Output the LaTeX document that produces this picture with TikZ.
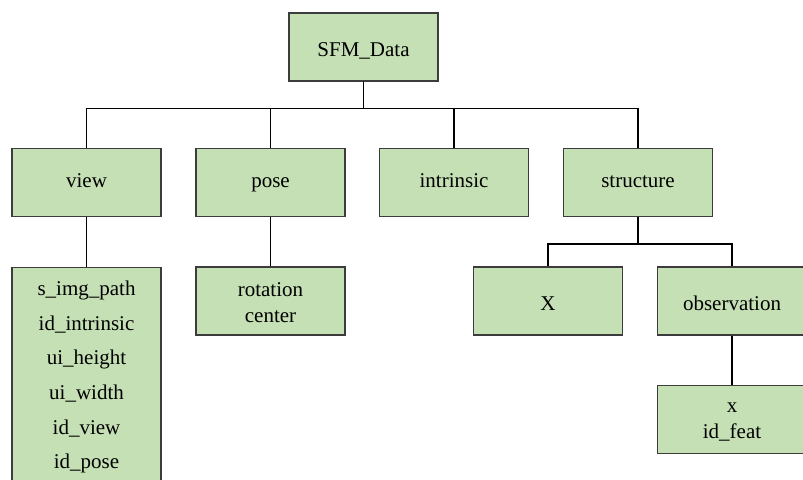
\documentclass[tikz,border=0pt]{standalone}
\usepackage{fontspec}
\setmainfont{Liberation Serif}
\usetikzlibrary{positioning}
\definecolor{sfmFill}{HTML}{C5E0B4}
\definecolor{sfmEdge}{HTML}{3C3C3C}
\tikzset{
  sfm tree/.style={x=0.5pt, y=-0.5pt,
    font=\rmfamily\fontsize{10.5}{13}\selectfont, line join=miter},
  sfm box/.style={draw=sfmEdge, fill=sfmFill, line width=0.6pt,
    minimum width=74.5pt, minimum height=34pt, inner sep=2pt, align=center},
  sfm word/.style={sfm box, text height=7pt, text depth=2.2pt},
  sfm low word/.style={sfm box, text height=11pt, text depth=1.2pt},
  % two lines: height is measured up from the last baseline
  sfm pair/.style={sfm box, text height=22pt, text depth=0pt},
  sfm list/.style={sfm box, anchor=north, minimum height=108pt,
    text height=95.3pt, text depth=2.3pt,
    font=\rmfamily\fontsize{10.5}{17.3}\selectfont},
  sfm link/.style={draw=black, line width=0.6pt}
}

\begin{document}
\begin{tikzpicture}[sfm tree]
\clip (0,0) rectangle (803,480);
% root
\node[sfm low word] (data) at (363.5,47) {SFM\_Data};
% members of SFM_Data
\node[sfm word] (view) at (86.5,182.5) {view};
\node[sfm word] (pose) at (270.5,182.5) {pose};
\node[sfm word] (intrinsic) at (454,182.5) {intrinsic};
\node[sfm word] (structure) at (638,182.5) {structure};
% leaves
\node[sfm list] (viewfields) at (86.5,267)
  {s\_img\_path\\id\_intrinsic\\ui\_height\\ui\_width\\id\_view\\id\_pose};
\node[sfm pair] (posefields) at (270.5,301) {rotation\\center};
\node[sfm low word] (points) at (548,301) {X};
\node[sfm low word] (observation) at (732,301) {observation};
\node[sfm pair, text height=19.8pt, text depth=1pt] (feat) at (732,419.5)
  {x\\id\_feat};

\foreach \child in {view,pose,intrinsic,structure}
  \draw[sfm link] (data.south) -- ++(0,27) -| (\child.north);
\foreach \child in {points,observation}
  \draw[sfm link] (structure.south) -- ++(0,27) -| (\child.north);
\draw[sfm link] (view.south) -- (viewfields.north);
\draw[sfm link] (pose.south) -- (posefields.north);
\draw[sfm link] (observation.south) -- (feat.north);
\end{tikzpicture}
\end{document}
